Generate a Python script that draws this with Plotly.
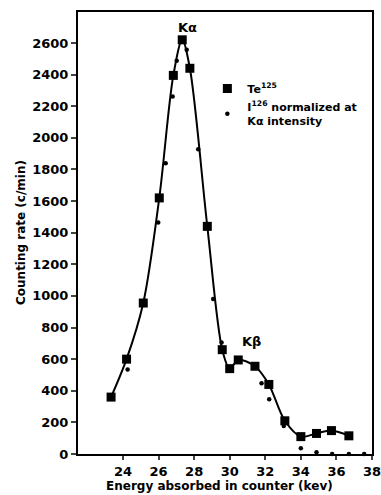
import plotly.graph_objects as go

# Te-125 (squares, connected by smooth curve)
te_energy = [23.33, 24.2, 25.14, 26.04, 26.83, 27.33, 27.76, 28.74, 29.58, 30.0,
             30.48, 31.42, 32.2, 33.1, 34.0, 34.88, 35.72, 36.7]
te_rate = [360, 600, 955, 1620, 2395, 2620, 2440, 1440, 660, 540,
           595, 555, 440, 210, 110, 130, 148, 115]

# I-126 normalized at K-alpha intensity (dots)
i_energy = [24.26, 25.98, 26.4, 26.79, 27.02, 27.58, 28.23, 29.07, 29.54,
            31.79, 32.22, 33.04, 34.0, 34.88, 35.76, 36.7, 37.56]
i_rate = [535, 1465, 1840, 2262, 2487, 2557, 1928, 980, 705,
          447, 346, 177, 36, 11, 0, 0, 0]

x_ticks = [24, 26, 28, 30, 32, 34, 36, 38]
y_ticks = list(range(0, 2601, 200))

x_title = "Energy absorbed in counter (kev)"
y_title = "Counting rate (c/min)"

font_family = "DejaVu Sans"

fig = go.Figure()
fig.add_trace(go.Scatter(
    x=te_energy, y=te_rate, mode="lines",
    line=dict(color="black", width=2, shape="spline", smoothing=0.9),
    showlegend=False, cliponaxis=False, hoverinfo="skip",
))
fig.add_trace(go.Scatter(
    x=te_energy, y=te_rate, mode="markers",
    marker=dict(symbol="square", size=9, color="black"),
    name="Te<sup>125</sup>", cliponaxis=False,
))
fig.add_trace(go.Scatter(
    x=i_energy, y=i_rate, mode="markers",
    marker=dict(symbol="circle", size=4.5, color="black"),
    name="I<sup>126</sup> normalized at<br>Kα intensity", cliponaxis=False,
))

fig.add_annotation(x=27.6, y=2700, text="Kα", showarrow=False,
                   font=dict(size=13, color="black", family=font_family))
fig.add_annotation(x=31.25, y=709, text="Kβ", showarrow=False,
                   font=dict(size=13, color="black", family=font_family))

# axis titles
fig.add_annotation(xref="paper", yref="paper", x=0.48, y=0, yshift=-32,
                   yanchor="middle", text=x_title, showarrow=False,
                   font=dict(size=12, color="black", family=font_family, weight="bold"))
fig.add_annotation(xref="paper", yref="paper", x=0, xshift=-57, y=0.5,
                   xanchor="center", textangle=-90, text=y_title, showarrow=False,
                   font=dict(size=12, color="black", family=font_family, weight="bold"))

fig.update_layout(
    width=381, height=495,
    margin=dict(l=78, r=9, t=12, b=41),
    paper_bgcolor="white", plot_bgcolor="white",
    font=dict(family=font_family, size=13, color="black", weight="bold"),
    legend=dict(x=0.44, y=0.86, xanchor="left", yanchor="top",
                bgcolor="rgba(0,0,0,0)", itemwidth=30,
                font=dict(size=11, weight="bold"), tracegroupgap=2),
    xaxis=dict(
        range=[21.47, 38.0], tickvals=x_ticks, ticks="outside", ticklen=4,
        tickwidth=1.5, showgrid=False, zeroline=False, showline=True,
        linecolor="black", linewidth=2, mirror=True, automargin=False,
        ticklabeloverflow="allow",
    ),
    yaxis=dict(
        range=[0, 2796], tickvals=y_ticks, ticks="outside", ticklen=5,
        tickwidth=1.5, showgrid=False, zeroline=False, showline=True,
        linecolor="black", linewidth=2, mirror=True, automargin=False,
    ),
)

fig.write_html("out.html", config={"displayModeBar": False},
               post_script="document.body.style.margin='0';document.body.style.overflow='hidden';")
